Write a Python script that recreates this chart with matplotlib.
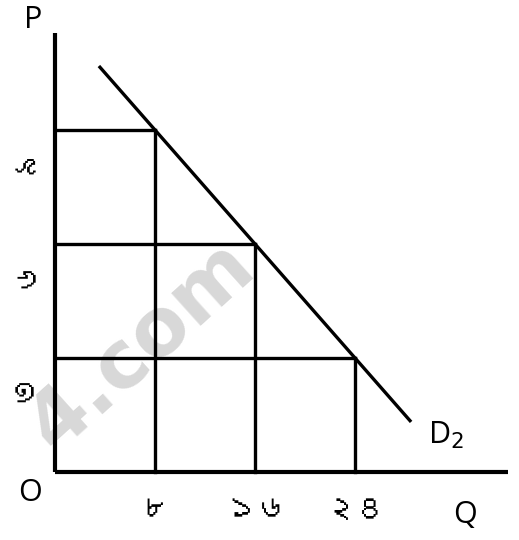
import matplotlib
matplotlib.use("Agg")
import matplotlib.pyplot as plt
from matplotlib import font_manager
from matplotlib.ft2font import FT2Font

# data
quantity = [8, 16, 24]
price = [9, 6, 3]
q_labels = ["৮", "১৬", "২৪"]
p_labels = ["৯", "৬", "৩"]
demand_q = [3.6, 28.4]
demand_p = [12 - 3 * q / 8 for q in demand_q]


def bengali_family():
    for f in font_manager.fontManager.ttflist:
        try:
            if 0x09EF in FT2Font(f.fname).get_charmap():
                return f.name
        except Exception:
            pass
    return None


beng = bengali_family()
latin = "Open Sans"
label_family = [beng, "DejaVu Sans"] if beng else ["DejaVu Sans"]

fig = plt.figure(figsize=(5.19, 5.40), dpi=100)
ax = fig.add_axes([0, 0, 1, 1])
ax.set_xlim(-4.4, 37.12)
ax.set_ylim(-1.79, 12.42)
ax.axis("off")

# watermark
ax.text(6.9, 3.3, "4.com", fontsize=58, fontweight="bold", color="#d8d8d8",
        rotation=42, rotation_mode="anchor", ha="center", va="center",
        family="DejaVu Sans", zorder=0)

lw_axis = 3.0
lw = 2.4
ax.plot([0, 0], [0, 11.55], color="black", lw=lw_axis, solid_capstyle="butt")
ax.plot([0, 36.2], [0, 0], color="black", lw=lw_axis, solid_capstyle="butt")

for q, p in zip(quantity, price):
    ax.plot([0, q], [p, p], color="black", lw=lw)
    ax.plot([q, q], [0, p], color="black", lw=lw)

ax.plot(demand_q, demand_p, color="black", lw=lw)

for q, lab in zip(quantity, q_labels):
    ax.text(q, -1.0, lab, fontsize=22, fontweight="bold", ha="center", va="center",
            family=label_family)
for p, lab in zip(price, p_labels):
    ax.annotate(lab, xy=(-2.65, p), xytext=(0, -21), textcoords="offset points",
                fontsize=22, fontweight="bold", ha="center", va="center", rotation=90,
                family=label_family)

ax.text(-1.75, 11.9, "P", fontsize=22, ha="center", va="center", family=latin)
ax.text(-2.0, -0.55, "O", fontsize=22, ha="center", va="center", family=latin)
ax.text(32.8, -1.13, "Q", fontsize=22, ha="center", va="center", family=latin)
ax.text(31.3, 0.97, "D$_2$", fontsize=22, ha="center", va="center", family=latin)

fig.savefig("out.png", dpi=100)
